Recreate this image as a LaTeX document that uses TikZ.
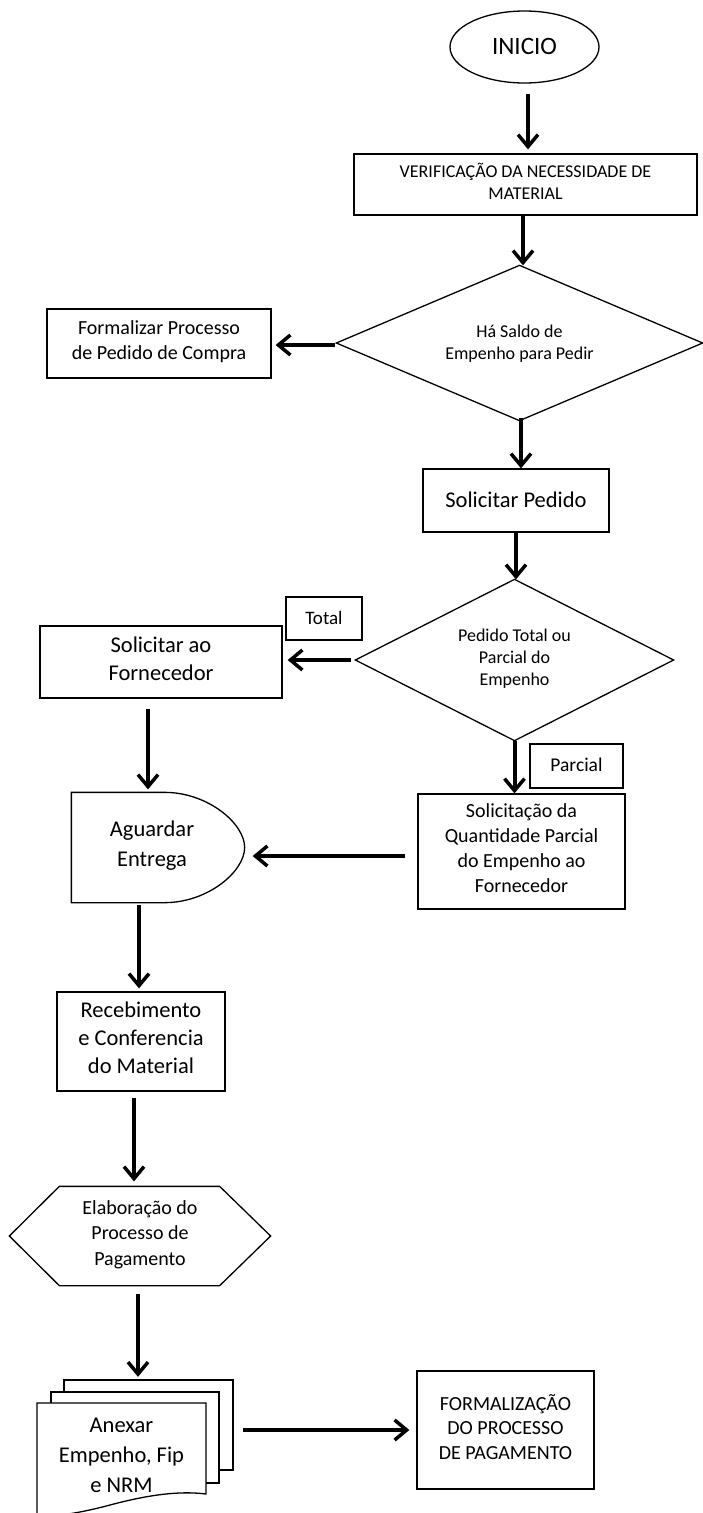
\documentclass[tikz,border=0pt]{standalone}
\usepackage{fontspec}
\setmainfont{Carlito}
\usetikzlibrary{arrows.meta,shapes.geometric}
\begin{document}
\begin{tikzpicture}[x=1pt,y=-1pt,
  box/.style={draw,line width=1.3pt,inner sep=0pt,align=center,
    execute at begin node={\rule{0pt}{0.9em}},
    execute at end node={\rule[-0.3em]{0pt}{0pt}}},
  fs/.style 2 args={font=\fontsize{#1}{#2}\selectfont},
  outline/.style={draw,line width=1.3pt,fill=white},
  shapeline/.style={line width=1.3pt},
  arr/.style={line width=4pt,-{Straight Barb[length=12pt,width=20pt,line width=3.5pt]}}]
\path[fill=white,use as bounding box] (0,0) rectangle (702,1513);

% nodes
\node[box,ellipse,minimum width=149,minimum height=72,fs={25}{30}] (ini) at (524.5,47) {INICIO};
\node[box,minimum width=343,minimum height=61,fs={18}{22}] (ver) at (525.5,184.5) {VERIFICAÇÃO DA NECESSIDADE DE\\MATERIAL};

% decision 1
\node[box,draw=none,minimum width=365,minimum height=154,fs={18}{22}] (d1) at (519.5,345) {Há Saldo de\\Empenho para Pedir};
\draw[shapeline] ([yshift=2pt]d1.north) -- ([yshift=2pt]d1.east) -- ([yshift=2pt]d1.south) -- ([yshift=2pt]d1.west) -- cycle;

\node[box,minimum width=224,minimum height=69,fs={20}{25}] (fpc) at (159,343.5) {Formalizar Processo\\de Pedido de Compra};
\node[box,minimum width=186,minimum height=63,fs={22.5}{28}] (sp) at (516,500.5) {Solicitar Pedido};

% decision 2
\node[box,draw=none,minimum width=317,minimum height=160,fs={18}{22}] (d2) at (514.5,660) {Pedido Total ou\\Parcial do\\Empenho};
\draw[shapeline] (d2.north) -- (d2.east) -- (d2.south) -- (d2.west) -- cycle;

\node[box,minimum width=76,minimum height=43,fs={19}{23}] (tot) at (324,618.5) {Total};
\node[box,minimum width=242,minimum height=72,fs={22.5}{28}] (saf) at (161,662) {Solicitar ao\\Fornecedor};
\node[box,minimum width=93,minimum height=44,fs={19.5}{24}] (par) at (576.5,766) {Parcial};
\node[box,minimum width=207,minimum height=115,fs={20}{25}] (sq) at (521.5,851.5) {Solicitação da\\Quantidade Parcial\\do Empenho ao\\Fornecedor};

% Aguardar Entrega (delay shape)
\node[box,draw=none,minimum width=160,minimum height=109,fs={22.5}{30}] (ag) at (152,847.5) {Aguardar\\Entrega};
\draw[shapeline] (ag.north west) -- ([xshift=-68pt]ag.north east)
  .. controls ([xshift=-25pt]ag.north east) and ([xshift=12pt,yshift=24.1pt]ag.east) .. ([xshift=12pt]ag.east)
  .. controls ([xshift=12pt,yshift=-24.1pt]ag.east) and ([xshift=-25pt]ag.south east) .. ([xshift=-68pt]ag.south east)
  -- (ag.south west) -- cycle;

\node[box,minimum width=168,minimum height=99,fs={22.5}{28}] (rec) at (141,1041.5) {Recebimento\\e Conferencia\\do Material};

% hexagon
\node[box,draw=none,minimum width=260,minimum height=98,fs={20}{25.5}] (hex) at (140,1236) {Elaboração do\\Processo de\\Pagamento};
\draw[shapeline] (hex.west) -- ([xshift=50pt]hex.north west) -- ([xshift=-51pt]hex.north east)
  -- (hex.east) -- ([xshift=-51pt]hex.south east) -- ([xshift=50pt]hex.south west) -- cycle;

% multi document
\node[draw=none,inner sep=0pt,minimum width=197,minimum height=116] (docs) at (135.5,1437) {};
\draw[outline] (64,1380) rectangle (233,1470);
\draw[outline] (51,1392) rectangle (219,1483);
\draw[outline] (37,1516) -- (37,1403) -- (206,1403) -- (206,1494)
  .. controls (175,1490) and (140,1497) .. (110,1505)
  .. controls (80,1513) and (55,1517) .. (37,1516);
\node[box,draw=none,fs={22.5}{30}] (doct) at (121.5,1459) {Anexar\\Empenho, Fip\\e NRM};

\node[box,minimum width=177,minimum height=118,fs={20}{24.5}] (form) at (505.5,1430) {FORMALIZAÇÃO\\DO PROCESSO\\DE PAGAMENTO};

% connectors
\draw[arr] ([xshift=3.5pt,yshift=-10pt]ini.south) -- ([xshift=2.5pt,yshift=4pt]ver.north);
\draw[arr] ([xshift=-2.5pt]ver.south) -- ([xshift=3.5pt,yshift=2pt]d1.north);
\draw[arr] ([xshift=-1pt]d1.west) -- ([xshift=4pt]fpc.east |- d1.west);
\draw[arr] ([xshift=1.5pt,yshift=5pt]d1.south) -- ([xshift=5pt]sp.north);
\draw[arr] (sp.south) -- ([xshift=1.5pt]d2.north);
\draw[arr] ([xshift=-4pt]d2.west) -- ([xshift=5pt]saf.east |- d2.west);
\draw[arr] (d2.south) -- ([xshift=-7pt]sq.north);
\draw[arr] ([xshift=-12pt,yshift=-4.5pt]sq.west) -- ([xshift=20pt,yshift=-8.5pt]ag.east);
\draw[arr] ([xshift=-13pt,yshift=-10pt]saf.south) -- ([xshift=-4pt,yshift=3pt]ag.north);
\draw[arr] ([xshift=-13pt,yshift=-2pt]ag.south) -- ([xshift=-2pt,yshift=3pt]rec.north);
\draw[arr] ([xshift=-7pt,yshift=-6pt]rec.south) -- ([xshift=-6pt,yshift=5pt]hex.north);
\draw[arr] ([xshift=-2pt,yshift=-8pt]hex.south) -- ([xshift=2.5pt,yshift=2pt]docs.north);
\draw[arr] ([xshift=9pt,yshift=7pt]docs.east) -- ([xshift=-7pt]form.west);
\end{tikzpicture}
\end{document}
